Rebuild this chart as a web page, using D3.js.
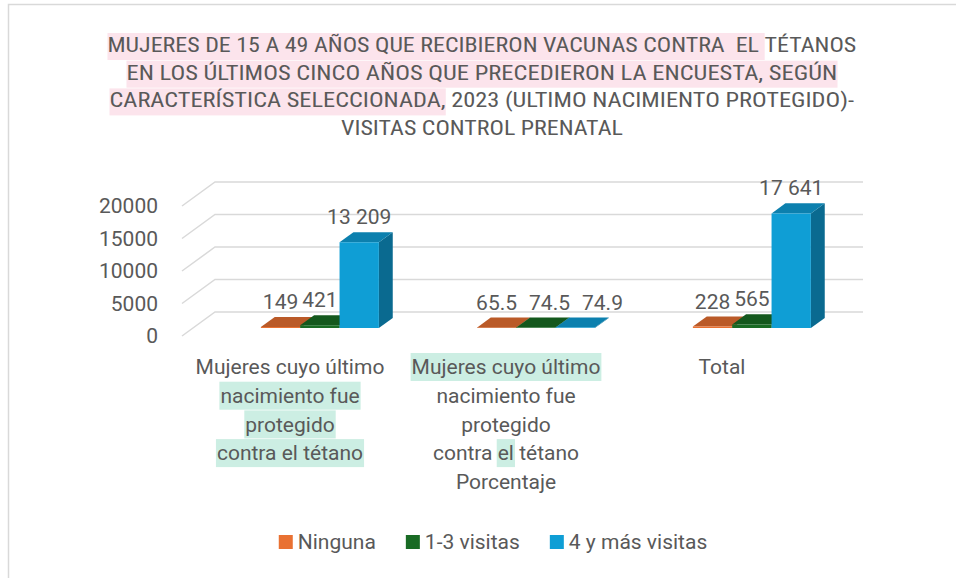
<!DOCTYPE html>
<html lang="es">
<head>
<meta charset="utf-8" />
<title>Vacunas contra el tétano</title>
<script src="https://d3js.org/d3.v7.min.js"></script>
<style>
  body { margin: 0; background: #fff; }
  text { fill: #595959; white-space: pre; }
</style>
</head>
<body>
<script>
// title lines, each split into [text, highlighted?] pieces
const titleLines = [
  [["MUJERES DE 15 A 49 AÑOS QUE RECIBIERON VACUNAS CONTRA  EL ", true], ["TÉTANOS", false]],
  [["EN LOS ÚLTIMOS CINCO AÑOS QUE PRECEDIERON LA ENCUESTA, SEGÚN", true]],
  [["CARACTERÍSTICA SELECCIONADA,", true], [" 2023 (ULTIMO NACIMIENTO PROTEGIDO)-", false]],
  [["VISITAS CONTROL PRENATAL", false]]
];
const titleWidths = [749, 711, 745, 282];

// category labels (wrapped as in the picture) and highlighted char ranges
const categories = [
  ["Mujeres cuyo último", "nacimiento fue", "protegido", "contra el tétano"],
  ["Mujeres cuyo último", "nacimiento fue", "protegido", "contra el tétano", "Porcentaje"],
  ["Total"]
];
const categoryMarks = [
  [null, [0, 14], [0, 9], [0, 16]],
  [[0, 19], null, null, [7, 9], null],
  [null]
];

const seriesNames = ["Ninguna", "1-3 visitas", "4 y más visitas"];
const ninguna = [149, 65.5, 228];
const visitas13 = [421, 74.5, 565];
const visitas4 = [13209, 74.9, 17641];
const yTicks = [0, 5000, 10000, 15000, 20000];

const seriesValues = [ninguna, visitas13, visitas4];
const colors = [
  { front: "#E97132", top: "#BA5A28", side: "#A04C1F" },
  { front: "#196B24", top: "#14581D", side: "#104917" },
  { front: "#0F9ED5", top: "#0C80AE", side: "#0A6A90" }
];

const width = 956, height = 578;
const DX = 33, DY = 24;      // depth offset of the 3d box
const z0 = 0.33, z1 = 0.75;  // depth of the bars

const svg = d3.select("body").append("svg")
  .attr("width", width)
  .attr("height", height)
  .style("font-family", "Roboto, 'Open Sans', sans-serif");

// outer frame
svg.append("rect")
  .attr("x", 8.5).attr("y", 4.5)
  .attr("width", 1000).attr("height", 600)
  .attr("fill", "none")
  .attr("stroke", "#d9d9d9")
  .attr("stroke-width", 1.5);

// ---- title ----
titleLines.forEach((parts, i) => {
  const g = svg.append("g");
  const t = g.append("text")
    .attr("x", 0).attr("y", 0)
    .style("font-family", "'Liberation Sans Narrow', 'Roboto Condensed', Roboto, sans-serif")
    .style("font-size", "20.5px");
  parts.forEach(p => t.append("tspan").text(p[0]));
  const node = t.node();
  const w = node.getComputedTextLength();
  const sx = titleWidths[i] / w;
  let pos = 0;
  parts.forEach(p => {
    if (p[1]) {
      const start = pos === 0 ? 0 : node.getSubStringLength(0, pos);
      const len = node.getSubStringLength(pos, p[0].length);
      g.insert("rect", "text")
        .attr("x", start).attr("y", -19)
        .attr("width", len).attr("height", 27)
        .attr("fill", "#FCE4EC");
    }
    pos += p[0].length;
  });
  g.attr("transform", `translate(${482 - titleWidths[i] / 2},${52 + i * 27.7}) scale(${sx},1)`);
});

// ---- scales ----
const y = d3.scaleLinear().domain([0, 20000]).range([336, 206]);
const x = d3.scaleBand().domain(d3.range(categories.length)).range([182, 830]);
const groupW = 118;
const xs = d3.scaleBand().domain(seriesNames).range([0, groupW]);
const proj = (px, v, z) => [px + z * DX, y(v) - z * DY];
const poly = pts => "M" + pts.map(p => p.join(",")).join("L") + "Z";

// gridlines (side wall + back wall)
svg.append("g").selectAll("path")
  .data(yTicks)
  .join("path")
  .attr("d", t => {
    const a = proj(x.range()[0], t, 0), b = proj(x.range()[0], t, 1), c = proj(x.range()[1], t, 1);
    return `M${a}L${b}L${c}`;
  })
  .attr("fill", "none")
  .attr("stroke", "#d9d9d9")
  .attr("stroke-width", 1.5);

// y axis labels
svg.append("g").selectAll("text")
  .data(yTicks)
  .join("text")
  .attr("x", 158)
  .attr("y", t => y(t))
  .attr("dy", "0.35em")
  .attr("text-anchor", "end")
  .style("font-size", "21px")
  .text(t => t);

// ---- bars ----
const fmt = d3.formatLocale({ decimal: ".", thousands: " ", grouping: [3], currency: ["", ""] }).format(",");
const bars = [];
categories.forEach((c, ci) => {
  seriesNames.forEach((s, si) => {
    const x0 = x(ci) + (x.bandwidth() - groupW) / 2 + 19 + xs(s);
    bars.push({ ci, x0, x1: x0 + xs.bandwidth(), v: seriesValues[si][ci], col: colors[si] });
  });
});

const barG = svg.append("g");
bars.forEach(b => {
  const g = barG.append("g");
  g.append("path")
    .attr("d", poly([proj(b.x1, 0, z0), proj(b.x1, 0, z1), proj(b.x1, b.v, z1), proj(b.x1, b.v, z0)]))
    .attr("fill", b.col.side);
  g.append("path")
    .attr("d", poly([proj(b.x0, b.v, z0), proj(b.x1, b.v, z0), proj(b.x1, b.v, z1), proj(b.x0, b.v, z1)]))
    .attr("fill", b.col.top);
  g.append("path")
    .attr("d", poly([proj(b.x0, 0, z0), proj(b.x1, 0, z0), proj(b.x1, b.v, z0), proj(b.x0, b.v, z0)]))
    .attr("fill", b.col.front);
});

// data labels, pushed right only when they would overlap their left neighbour
const labels = svg.append("g").selectAll("text")
  .data(bars)
  .join("text")
  .attr("x", b => (b.x0 + b.x1) / 2 + z0 * DX)
  .attr("y", b => y(b.v) - z0 * DY - 18)
  .attr("text-anchor", "middle")
  .style("font-size", "21px")
  .text(b => fmt(b.v));

let prev = null;
labels.each(function (b) {
  const w = this.getComputedTextLength();
  let cx = +this.getAttribute("x");
  const ly = +this.getAttribute("y");
  if (prev && prev.ci === b.ci && Math.abs(prev.y - ly) < 18 && cx - w / 2 < prev.right) {
    cx = prev.right + 12 + w / 2;
    this.setAttribute("x", cx);
  }
  prev = { ci: b.ci, y: ly, right: cx + w / 2 };
});

// ---- category labels ----
categories.forEach((lines, ci) => {
  const cx = x(ci) + x.bandwidth() / 2;
  lines.forEach((line, li) => {
    const g = svg.append("g");
    const t = g.append("text")
      .attr("x", cx)
      .attr("y", 367 + li * 28.7)
      .attr("dy", "0.35em")
      .attr("text-anchor", "middle")
      .style("font-size", "21px")
      .text(line);
    const m = categoryMarks[ci][li];
    if (m) {
      const node = t.node();
      const w = node.getComputedTextLength();
      const start = m[0] === 0 ? 0 : node.getSubStringLength(0, m[0]);
      const len = node.getSubStringLength(m[0], m[1] - m[0]);
      g.insert("rect", "text")
        .attr("x", cx - w / 2 + start - 1)
        .attr("y", 367 + li * 28.7 - 14)
        .attr("width", len + 2)
        .attr("height", 28)
        .attr("fill", "#CCEEE3");
    }
  });
});

// ---- legend ----
const legend = svg.append("g");
let lx = 0;
seriesNames.forEach((s, i) => {
  const item = legend.append("g").attr("transform", `translate(${lx},0)`);
  item.append("rect")
    .attr("x", 0).attr("y", -7)
    .attr("width", 14).attr("height", 14)
    .attr("fill", colors[i].front);
  const t = item.append("text")
    .attr("x", 19).attr("y", 0)
    .attr("dy", "0.35em")
    .style("font-size", "21px")
    .text(s);
  lx += 19 + t.node().getComputedTextLength() + 30;
});
lx -= 30;
legend.attr("transform", `translate(${493 - lx / 2},542)`);
</script>
</body>
</html>
